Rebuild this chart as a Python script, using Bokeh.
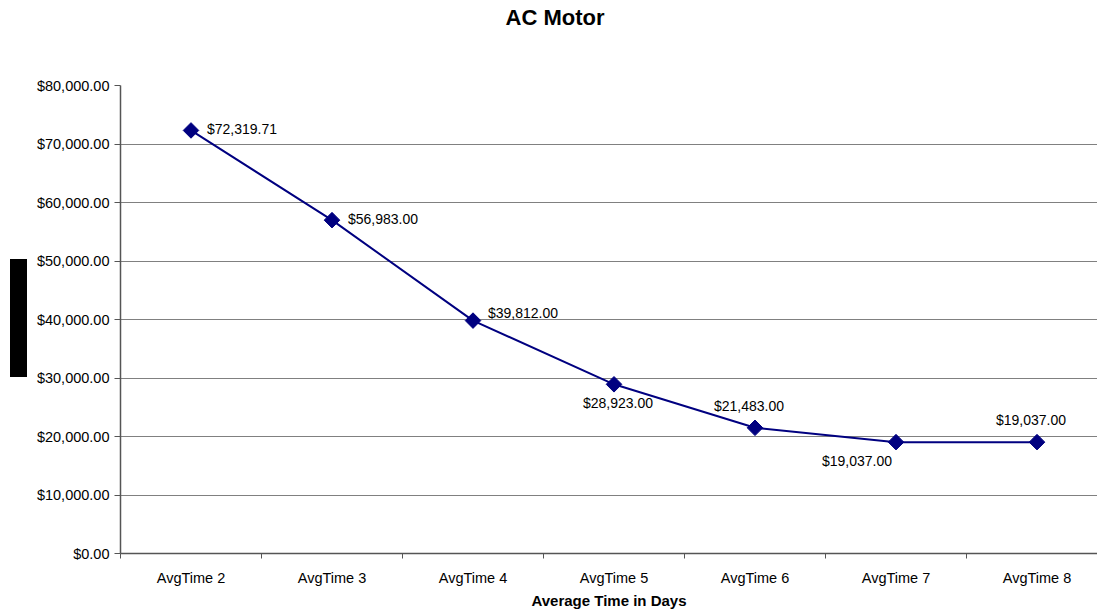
from bokeh.plotting import figure
from bokeh.models import Range1d, FixedTicker, NumeralTickFormatter, ColumnDataSource, Div
from bokeh.layouts import column, row
from bokeh.core.properties import value
from bokeh.embed import file_html
from bokeh.resources import INLINE
import numpy as np

# ---- data ----
title_text = "AC Motor"
x_title = "Average Time in Days"
categories = ["AvgTime 2", "AvgTime 3", "AvgTime 4", "AvgTime 5", "AvgTime 6", "AvgTime 7", "AvgTime 8"]
costs = [72319.71, 56983.00, 39812.00, 28923.00, 21483.00, 19037.00, 19037.00]
y_ticks = [0, 10000, 20000, 30000, 40000, 50000, 60000, 70000, 80000]

FONT = "Liberation Sans"
NAVY = "#000080"

xs = [i + 0.5 for i in range(len(categories))]

title_div = Div(text=title_text, width=1097, height=40, margin=(0, 0, 0, 0),
                styles={"font-family": FONT, "font-weight": "bold", "font-size": "22px",
                        "text-align": "center", "padding-left": "13px", "line-height": "36px",
                        "color": "black", "width": "1097px", "box-sizing": "border-box"})

box_div = Div(text='<div style="position:relative;left:10px;top:219px;width:17px;height:118px;background:#000;"></div>',
              width=30, height=571, margin=(0, 0, 0, 0))

p = figure(width=1067, height=571, output_backend="svg", toolbar_location=None,
           title=None, x_range=Range1d(0, 6.929), y_range=Range1d(0, 80000),
           min_border_left=90, min_border_right=0, min_border_top=45, min_border_bottom=53,
           margin=(0, 0, 0, 0))
p.outline_line_color = None
p.background_fill_color = "white"

# grid
p.xgrid.grid_line_color = None
p.ygrid.grid_line_color = "#808080"
p.ygrid.grid_line_width = 1
p.ygrid.ticker = FixedTicker(ticks=y_ticks)

# y axis
p.yaxis.ticker = FixedTicker(ticks=y_ticks)
p.yaxis.formatter = NumeralTickFormatter(format="$0,0.00")
p.yaxis.major_label_text_font = FONT
p.yaxis.major_label_text_font_size = "14.5px"
p.yaxis.major_label_text_color = "black"
p.yaxis.axis_line_color = "#555555"
p.yaxis.axis_line_width = 1.5
p.yaxis.major_tick_line_color = "#555555"
p.yaxis.major_tick_in = 0
p.yaxis.major_tick_out = 6
p.yaxis.minor_tick_line_color = None
p.yaxis.major_label_standoff = 5

# x axis
p.xaxis.ticker = FixedTicker(ticks=xs, minor_ticks=list(range(len(categories) + 1)))
p.xaxis.major_label_overrides = {x: c for x, c in zip(xs, categories)}
p.xaxis.major_label_text_font = FONT
p.xaxis.major_label_text_font_size = "14.5px"
p.xaxis.major_label_text_color = "black"
p.xaxis.axis_line_color = "#555555"
p.xaxis.axis_line_width = 1.5
p.xaxis.major_tick_line_color = None
p.xaxis.major_tick_in = 0
p.xaxis.major_tick_out = 5
p.xaxis.minor_tick_line_color = "#555555"
p.xaxis.minor_tick_in = 0
p.xaxis.minor_tick_out = 5
p.xaxis.major_label_standoff = 11
p.xaxis.axis_label = x_title
p.xaxis.axis_label_text_font = FONT
p.xaxis.axis_label_text_font_style = "bold"
p.xaxis.axis_label_text_font_size = "15px"
p.xaxis.axis_label_text_color = "black"
p.xaxis.axis_label_standoff = 3

# line + markers
src = ColumnDataSource(dict(x=xs, y=costs, lab=[f"${v:,.2f}" for v in costs]))
p.line("x", "y", source=src, line_color=NAVY, line_width=2)
p.scatter("x", "y", source=src, marker="square", angle=np.pi / 4, size=11,
          fill_color=NAVY, line_color=NAVY)

# data labels
placement = ["right", "right", "right-up", "below", "above", "below-left", "above"]
offsets = {"right": (16, -1, "left"), "right-up": (15, -8, "left"),
           "below": (4, 19, "center"), "above": (-6, -22, "center"),
           "below-left": (-4, 19, "right")}
for i, pl in enumerate(placement):
    dx, dy, al = offsets[pl]
    p.text(x=[xs[i]], y=[costs[i]], text=[src.data["lab"][i]], x_offset=dx, y_offset=dy,
           text_align=al, text_baseline="middle", text_font=value(FONT),
           text_font_size="14px", text_color="black")

layout = column(title_div, row(box_div, p, spacing=0), spacing=0)

open("out.html", "w").write(file_html(layout, INLINE))
